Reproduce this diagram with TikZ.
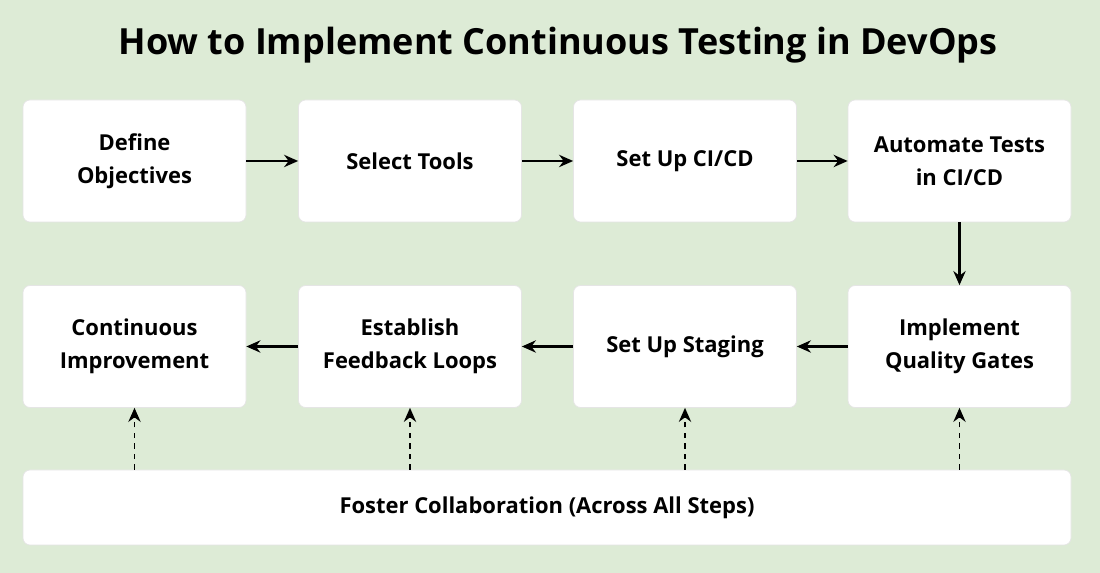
\documentclass[tikz,border=0pt]{standalone}
\usepackage{fontspec}
\setmainfont{Open Sans}
\usetikzlibrary{positioning,arrows.meta}
\definecolor{bgreen}{HTML}{DDEBD6}
\tikzset{
  stage/.style={draw=black!10,fill=white,rounded corners=4pt,minimum width=223*0.02cm,
    minimum height=122*0.02cm,align=center,font=\fontsize{12.5}{18.5}\selectfont\bfseries},
  flow/.style={-{Stealth[length=8pt,width=7pt]},line width=1.2pt},
  link/.style={-{Stealth[length=8pt,width=7pt]},line width=1pt,dashed}
}
\begin{document}
\begin{tikzpicture}[x=0.02cm,y=-0.02cm]
\fill[bgreen] (0,0) rectangle (1100,573);
\useasboundingbox (0,0) rectangle (1100,573);
\node[font=\fontsize{20.5}{25}\selectfont\bfseries] (title) at (558,45) {How to Implement Continuous Testing in DevOps};
% top row
\node[stage] (define) at (134.5,161) {Define\\Objectives};
\node[stage] (select) at (410,161) {Select Tools};
\node[stage] (cicd) at (685,161) {Set Up CI/CD};
\node[stage] (auto) at (959.5,161) {Automate Tests\\in CI/CD};
% bottom row
\node[stage] (gates) at (959.5,346.5) {Implement\\Quality Gates};
\node[stage] (staging) at (685,346.5) {Set Up Staging};
\node[stage] (feedback) at (410,346.5) {Establish\\Feedback Loops};
\node[stage] (improve) at (134.5,346.5) {Continuous\\Improvement};
\node[stage,minimum width=1048*0.02cm,minimum height=75*0.02cm] (collab) at (547,507.5) {Foster Collaboration (Across All Steps)};
\draw[flow] (define) -- (select);
\draw[flow] (select) -- (cicd);
\draw[flow] (cicd) -- (auto);
\draw[flow] (auto) -- (gates);
\draw[flow] (gates) -- (staging);
\draw[flow] (staging) -- (feedback);
\draw[flow] (feedback) -- (improve);
\foreach \n in {improve,feedback,staging,gates}
  \draw[link] (collab.north -| \n.south) -- (\n.south);
\end{tikzpicture}
\end{document}
